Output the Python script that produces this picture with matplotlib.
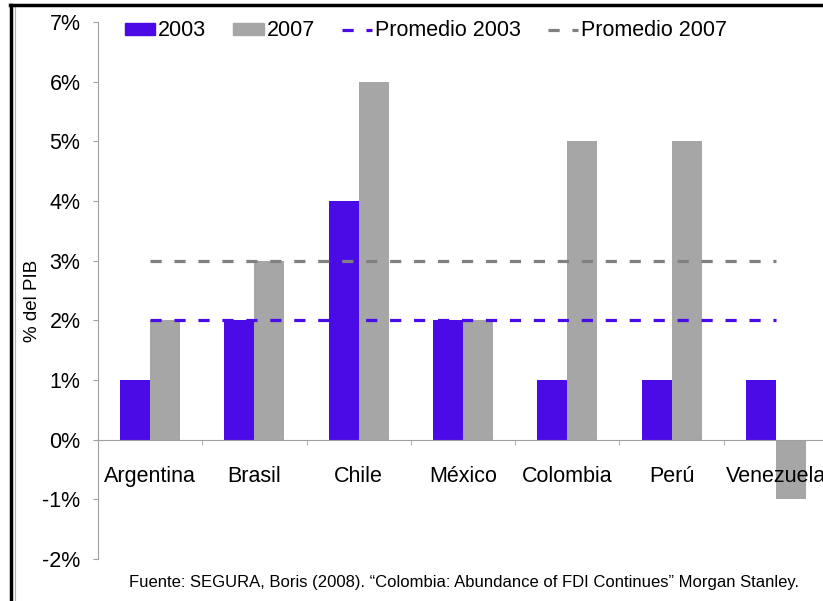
import numpy as np
import matplotlib
matplotlib.use("Agg")
from matplotlib import pyplot as plt
from matplotlib.lines import Line2D
from matplotlib.patches import Patch

# datos
paises = ["Argentina", "Brasil", "Chile", "México", "Colombia", "Perú", "Venezuela"]
valores_2003 = [1, 2, 4, 2, 1, 1, 1]
valores_2007 = [2, 3, 6, 2, 5, 5, -1]
promedio_2003 = [2, 2, 2, 2, 2, 2, 2]
promedio_2007 = [3, 3, 3, 3, 3, 3, 3]
ticks_y = [-2, -1, 0, 1, 2, 3, 4, 5, 6, 7]
fuente = ("Fuente: SEGURA, Boris (2008). \u201cColombia: Abundance of FDI "
          "Continues\u201d Morgan Stanley.")

morado = "#4A0BE6"
gris = "#A6A6A6"
gris_osc = "#808080"
eje = "#A0A0A0"

plt.rcParams["font.family"] = ["Liberation Sans", "DejaVu Sans"]

fig = plt.figure(figsize=(8.23, 6.01), dpi=100)
ax = fig.add_axes([98 / 823, 1 - 559 / 601, 730 / 823, 537 / 601])
ax.set_axisbelow(False)

x = np.arange(len(paises))
ancho = 0.288
ax.bar(x - ancho / 2, valores_2003, ancho, color=morado, zorder=2)
ax.bar(x + ancho / 2, valores_2007, ancho, color=gris, zorder=2)
ax.plot(x, promedio_2003, color=morado, lw=2.3, dashes=(3.5, 4), zorder=3)
ax.plot(x, promedio_2007, color=gris_osc, lw=2.3, dashes=(3.5, 4), zorder=3)

ax.set_xlim(-0.5, len(paises) - 0.5)
ax.set_ylim(-2, 7)
ax.set_yticks(ticks_y)
ax.set_yticklabels([f"{t}%" for t in ticks_y], fontsize=15.5)
ax.set_ylabel("% del PIB", fontsize=13.5)
ax.yaxis.set_label_coords(41 / 823, 0.5, transform=fig.transFigure)

ax.spines["top"].set_visible(False)
ax.spines["right"].set_visible(False)
ax.spines["left"].set_color(eje)
ax.spines["bottom"].set_color(eje)
ax.spines["bottom"].set_position(("data", 0))
ax.tick_params(axis="y", direction="out", length=3.6, color=eje, pad=9)

ax.set_xticks(x)
ax.set_xticklabels(paises, fontsize=15.5)
ax.set_xticks(np.arange(len(paises)) + 0.5, minor=True)
ax.tick_params(axis="x", which="major", length=0, pad=19)
ax.tick_params(axis="x", which="minor", length=3.6, color=eje, direction="out")

handles = [
    Patch(color=morado, label="2003"),
    Patch(color=gris, label="2007"),
    Line2D([], [], color=morado, lw=2.3, dashes=(3.5, 4), label="Promedio 2003"),
    Line2D([], [], color=gris_osc, lw=2.3, dashes=(3.5, 4), label="Promedio 2007"),
]
ax.legend(handles=handles, ncol=4, frameon=False, fontsize=15.5,
          loc="center left", bbox_to_anchor=(125 / 823, 1 - 31 / 601),
          bbox_transform=fig.transFigure, borderpad=0, borderaxespad=0,
          handlelength=1.4, handleheight=0.45, handletextpad=0.15,
          columnspacing=1.25)

fig.text(464 / 823, 1 - 582 / 601, fuente, fontsize=12,
         ha="center", va="center")

# marco
fig.add_artist(Line2D([11 / 823, 11 / 823], [0, 1 - 5 / 601],
                      color="black", lw=2.5, transform=fig.transFigure))
fig.add_artist(Line2D([14.5 / 823, 14.5 / 823], [0, 1 - 7 / 601],
                      color="#B0B0B0", lw=0.8, transform=fig.transFigure))
fig.add_artist(Line2D([10 / 823, 1], [1 - 5 / 601, 1 - 5 / 601],
                      color="black", lw=2.5, transform=fig.transFigure))

fig.savefig("out.png", dpi=100)
